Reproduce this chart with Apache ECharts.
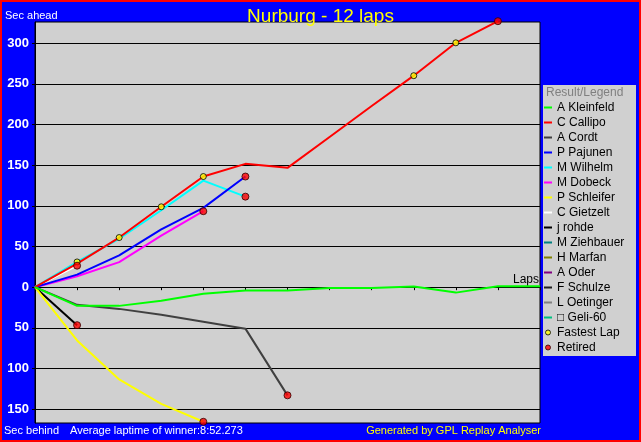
<!DOCTYPE html>
<html>
<head>
<meta charset="utf-8">
<script src="https://cdn.jsdelivr.net/npm/echarts@6/dist/echarts.min.js"></script>
<style>html,body{margin:0;padding:0;background:#0000ff;}#c{width:641px;height:442px;}</style>
</head>
<body>
<div id="c"></div>
<script>
// ---- data ----
const laps = [0, 1, 2, 3, 4, 5, 6, 7, 8, 9, 10, 11, 12];
const drivers = ['A Kleinfeld', 'C Callipo', 'A Cordt', 'P Pajunen', 'M Wilhelm', 'M Dobeck', 'P Schleifer', 'C Gietzelt', 'j rohde', 'M Ziehbauer', 'H Marfan', 'A Oder', 'F Schulze', 'L Oetinger', '\u25A1 Geli-60'];
const kleinfeld = [0, -23, -23, -16.7, -8, -4.2, -4, -1, -1, 0.7, -6.7, 1.2, 1.2];
const callipo = [0, 29, 61, 98.8, 136, 151.6, 146.7, 184.7, 222.7, 260, 300.4, 327];
const cordt = [0, -21.7, -26.7, -34, -42.5, -51, -133];
const pajunen = [0, 15.4, 39, 71, 97.5, 136];
const wilhelm = [0, 31, 59.5, 94.6, 131, 111.3];
const dobeck = [0, 13.4, 30.8, 63.4, 93.4];
const schleifer = [0, -65.5, -113.4, -143.4, -165.5];
const gietzelt = [0, 26.4];
const rohde = [0, -46.7];
const ziehbauer = [];
const marfan = [];
const oder = [];
const schulze = [];
const oetinger = [];
const geli = [];
const fastestLapDrivers = ['M Wilhelm', 'C Callipo', 'C Callipo', 'C Callipo', 'C Callipo', 'C Callipo'];
const fastestLapLaps = [1, 2, 3, 4, 9, 10];
const yTicks = [-150, -100, -50, 0, 50, 100, 150, 200, 250, 300];
const totalLaps = 12;
const titleText = 'Nurburg - 12 laps';
const avgText = 'Average laptime of winner:8:52.273';

// ---- styles ----
const colors = ['#00ff00', '#ff0000', '#404040', '#0000ff', '#00ffff', '#ff00ff', '#ffff00', '#ffffff', '#000000', '#008080', '#808000', '#800080', '#202020', '#808080', '#00c080'];
const values = [kleinfeld, callipo, cordt, pajunen, wilhelm, dobeck, schleifer, gietzelt, rohde, ziehbauer, marfan, oder, schulze, oetinger, geli];
const FONT = 'Liberation Sans';

const series = drivers.map((name, i) => ({
  name: name,
  type: 'line',
  data: values[i].map((v, k) => [laps[k], v]),
  symbol: 'none',
  clip: false,
  z: 40 - i,
  lineStyle: { color: colors[i], width: 2 },
  itemStyle: { color: colors[i] },
  animation: false
}));

const fastestData = fastestLapDrivers.map((d, j) => {
  const vals = values[drivers.indexOf(d)];
  return [fastestLapLaps[j], vals[fastestLapLaps[j]]];
});
const retiredData = [];
values.forEach(vals => {
  if (vals.length > 0 && vals.length - 1 < totalLaps) {
    retiredData.push([laps[vals.length - 1], vals[vals.length - 1]]);
  }
});

series.push({
  name: 'Fastest Lap', type: 'scatter', data: fastestData, symbol: 'circle', symbolSize: 6, clip: false, z: 60,
  itemStyle: { color: '#ffff00', borderColor: '#000', borderWidth: 1 }, animation: false
});
series.push({
  name: 'Retired', type: 'scatter', data: retiredData, symbol: 'circle', symbolSize: 7, clip: false, z: 61,
  itemStyle: { color: '#ff0000', borderColor: '#300000', borderWidth: 1 }, animation: false
});

const legendData = drivers.map((n, i) => ({ name: n, icon: 'path://M0,0H8V2H0Z', itemStyle: { color: colors[i], borderWidth: 0 } }));
legendData.push({ name: 'Fastest Lap', icon: 'circle', itemStyle: { color: '#ffff00', borderColor: '#000', borderWidth: 1 } });
legendData.push({ name: 'Retired', icon: 'circle', itemStyle: { color: '#ff0000', borderColor: '#300000', borderWidth: 1 } });

const chart = echarts.init(document.getElementById('c'), null, { renderer: 'canvas' });
chart.setOption({
  animation: false,
  backgroundColor: '#0000ff',
  title: {
    text: titleText, left: 'center', top: 2,
    textStyle: { color: '#ffff00', fontSize: 19, fontWeight: 'normal', fontFamily: FONT }
  },
  grid: {
    left: 35, right: 101, top: 22, bottom: 19,
    show: true, backgroundColor: '#d0d0d0', borderColor: '#000', borderWidth: 1
  },
  legend: {
    orient: 'vertical', left: 544, top: 100, padding: 0,
    itemWidth: 8, itemHeight: 5, itemGap: 0,
    selectedMode: false,
    data: legendData,
    textStyle: { color: '#000', fontSize: 12, lineHeight: 15, fontFamily: FONT }
  },
  xAxis: {
    type: 'value', min: 0, max: totalLaps, interval: 1,
    name: 'Laps', nameLocation: 'end', nameGap: -1,
    nameTextStyle: { color: '#000', fontSize: 12, fontFamily: FONT, align: 'right', verticalAlign: 'bottom', padding: [0, 0, 1, 0] },
    axisLine: { show: true, onZero: true, lineStyle: { color: '#000', width: 1 } },
    axisTick: { show: true, length: 3, lineStyle: { color: '#000' } },
    axisLabel: { show: false },
    splitLine: { show: false }
  },
  yAxis: {
    type: 'value', min: -167, max: 326,
    axisLine: { show: true, lineStyle: { color: '#000' } },
    axisTick: { show: true, length: 3, lineStyle: { color: '#000' }, customValues: yTicks },
    axisLabel: {
      customValues: yTicks, formatter: v => String(Math.abs(v)),
      color: '#ffffff', fontWeight: 'bold', fontSize: 13, fontFamily: FONT, margin: 6
    },
    splitLine: { show: true, customValues: yTicks, lineStyle: { color: '#000', width: 1 } }
  },
  graphic: [
    { type: 'rect', z: -1, shape: { x: 543, y: 85, width: 93, height: 271 }, style: { fill: '#d0d0d0' } },
    { type: 'text', z: 10, x: 546, y: 93, style: { text: 'Result/Legend', fill: '#808080', font: '12px "Liberation Sans"', verticalAlign: 'middle' } },
    { type: 'text', z: 10, x: 5, y: 16, style: { text: 'Sec ahead', fill: '#ffffff', font: '11px "Liberation Sans"', verticalAlign: 'middle' } },
    { type: 'text', z: 10, x: 4, y: 431, style: { text: 'Sec behind', fill: '#ffffff', font: '11px "Liberation Sans"', verticalAlign: 'middle' } },
    { type: 'text', z: 10, x: 70, y: 431, style: { text: avgText, fill: '#ffffff', font: '11px "Liberation Sans"', verticalAlign: 'middle' } },
    { type: 'text', z: 10, x: 541, y: 431, style: { text: 'Generated by GPL Replay Analyser', fill: '#ffff00', font: '11px "Liberation Sans"', align: 'right', verticalAlign: 'middle' } },
    { type: 'rect', z: 100, shape: { x: 0, y: 0, width: 641, height: 442 }, style: { fill: 'none', stroke: '#ff0000', lineWidth: 4 } }
  ],
  series: series
});
</script>
</body>
</html>
